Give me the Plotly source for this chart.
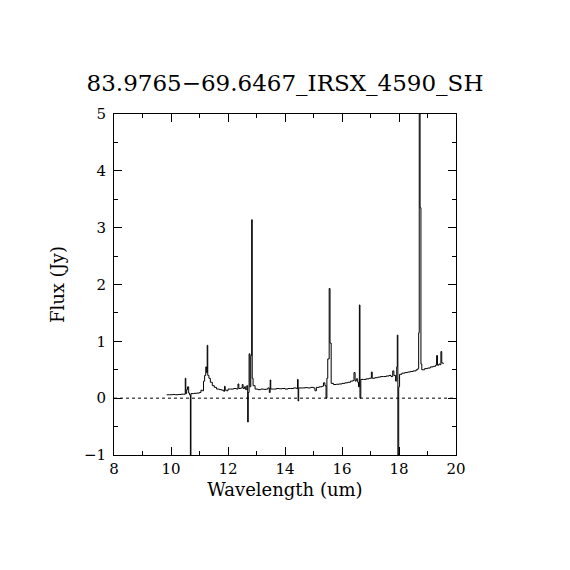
import plotly.graph_objects as go

# espectro leido a ojo de la figura (longitud de onda en um, flujo en Jy)
wavelength = [
    9.85, 9.95, 10.05, 10.15, 10.25, 10.35, 10.45, 10.50, 10.52, 10.55,
    10.58, 10.62, 10.65, 10.68, 10.70, 10.80, 10.90, 11.00, 11.05, 11.10,
    11.14, 11.18, 11.22, 11.25, 11.27, 11.29, 11.33, 11.38, 11.45, 11.52,
    11.60, 11.70, 11.78, 11.85, 11.88, 11.90, 11.95, 12.00, 12.10, 12.20,
    12.30, 12.35, 12.38, 12.45, 12.50, 12.53, 12.58, 12.62, 12.66, 12.69,
    12.71, 12.74, 12.77, 12.80, 12.83, 12.85, 12.88, 12.95, 13.05, 13.15,
    13.25, 13.35, 13.40, 13.45, 13.48, 13.50, 13.60, 13.70, 13.80, 13.90,
    14.00, 14.10, 14.20, 14.30, 14.40, 14.44, 14.46, 14.48, 14.60, 14.70,
    14.80, 14.90, 15.00, 15.05, 15.10, 15.20, 15.30, 15.35, 15.40, 15.44,
    15.47, 15.50, 15.55, 15.58, 15.62, 15.70, 15.80, 15.90, 16.00, 16.10,
    16.20, 16.30, 16.38, 16.42, 16.46, 16.50, 16.55, 16.58, 16.61, 16.63,
    16.66, 16.75, 16.85, 16.95, 17.03, 17.06, 17.15, 17.25, 17.35, 17.45,
    17.55, 17.65, 17.72, 17.78, 17.82, 17.88, 17.92, 17.94, 17.96, 17.99,
    18.02, 18.10, 18.20, 18.30, 18.40, 18.50, 18.60, 18.66, 18.69, 18.71,
    18.74, 18.77, 18.80, 18.90, 19.00, 19.10, 19.20, 19.28, 19.32, 19.35,
    19.40, 19.44, 19.47, 19.50, 19.55,
]
flux = [
    0.06, 0.06, 0.065, 0.06, 0.065, 0.07, 0.07, 0.35, 0.08, 0.15,
    0.20, 0.09, 0.06, -1.0, 0.08, 0.085, 0.09, 0.10, 0.14, 0.13,
    0.30, 0.40, 0.55, 0.45, 0.93, 0.40, 0.35, 0.28, 0.22, 0.19,
    0.16, 0.15, 0.14, 0.12, 0.21, 0.14, 0.13, 0.16, 0.16, 0.17,
    0.16, 0.25, 0.17, 0.18, 0.24, 0.17, 0.20, 0.15, 0.22, -0.42,
    0.10, 0.78, 0.20, 0.75, 3.14, 0.35, 0.22, 0.16, 0.15, 0.16,
    0.155, 0.16, 0.18, 0.10, 0.32, 0.16, 0.16, 0.17, 0.165, 0.17,
    0.16, 0.17, 0.17, 0.18, 0.17, 0.33, -0.05, 0.18, 0.18, 0.185,
    0.18, 0.19, 0.18, 0.13, 0.19, 0.20, 0.21, 0.27, 0.22, 0.0,
    0.35, 0.69, 1.93, 0.97, 0.26, 0.24, 0.245, 0.25, 0.26, 0.27,
    0.28, 0.30, 0.31, 0.45, 0.30, 0.34, 0.28, 0.20, 1.64, 0.0,
    0.33, 0.33, 0.34, 0.35, 0.46, 0.35, 0.36, 0.37, 0.38, 0.38,
    0.39, 0.40, 0.38, 0.48, 0.40, 0.30, 0.55, 1.11, -1.0, 0.20,
    0.42, 0.44, 0.45, 0.46, 0.47, 0.48, 0.50, 0.52, 1.15, 5.0,
    3.35, 0.60, 0.50, 0.52, 0.53, 0.55, 0.56, 0.58, 0.75, 0.58,
    0.60, 0.59, 0.82, 0.62, 0.60,
]

titulo = "83.9765\u221269.6467_IRSX_4590_SH"
fuente = "DejaVu Serif"

fig = go.Figure(go.Scatter(
    x=wavelength,
    y=flux,
    mode='lines',
    line=dict(color='black', width=1, shape='hv'),
    showlegend=False
))

# linea de cero punteada
fig.add_shape(type='line', xref='paper', yref='y', x0=0, x1=1, y0=0, y1=0,
              line=dict(color='black', width=1, dash='dot'))

eje = dict(
    showgrid=False,
    zeroline=False,
    showline=True,
    linecolor='black',
    linewidth=1,
    mirror='ticks',
    ticks='inside',
    ticklen=8,
    tickcolor='black',
    tickfont=dict(family=fuente, size=15, color='black'),
)

fig.update_layout(
    width=570,
    height=570,
    paper_bgcolor='white',
    plot_bgcolor='white',
    margin=dict(l=106, r=122, t=106, b=123),
    title=dict(text=titulo, xref='paper', x=0.5, xanchor='center', y=0.868, yanchor='middle',
               font=dict(family=fuente, size=23, color='black')),
    xaxis=dict(eje, range=[8, 20], dtick=2, tick0=8,
               minor=dict(dtick=1, ticklen=4, ticks='inside', tickcolor='black'),
               title=dict(text='Wavelength (um)', standoff=6,
                          font=dict(family=fuente, size=18, color='black'))),
    yaxis=dict(eje, range=[-1, 5], dtick=1, tick0=0, ticklabelstandoff=4,
               minor=dict(dtick=0.5, ticklen=4, ticks='inside', tickcolor='black'),
               title=dict(text='Flux (Jy)', standoff=14,
                          font=dict(family=fuente, size=18, color='black'))),
)

fig.write_html("out.html")
